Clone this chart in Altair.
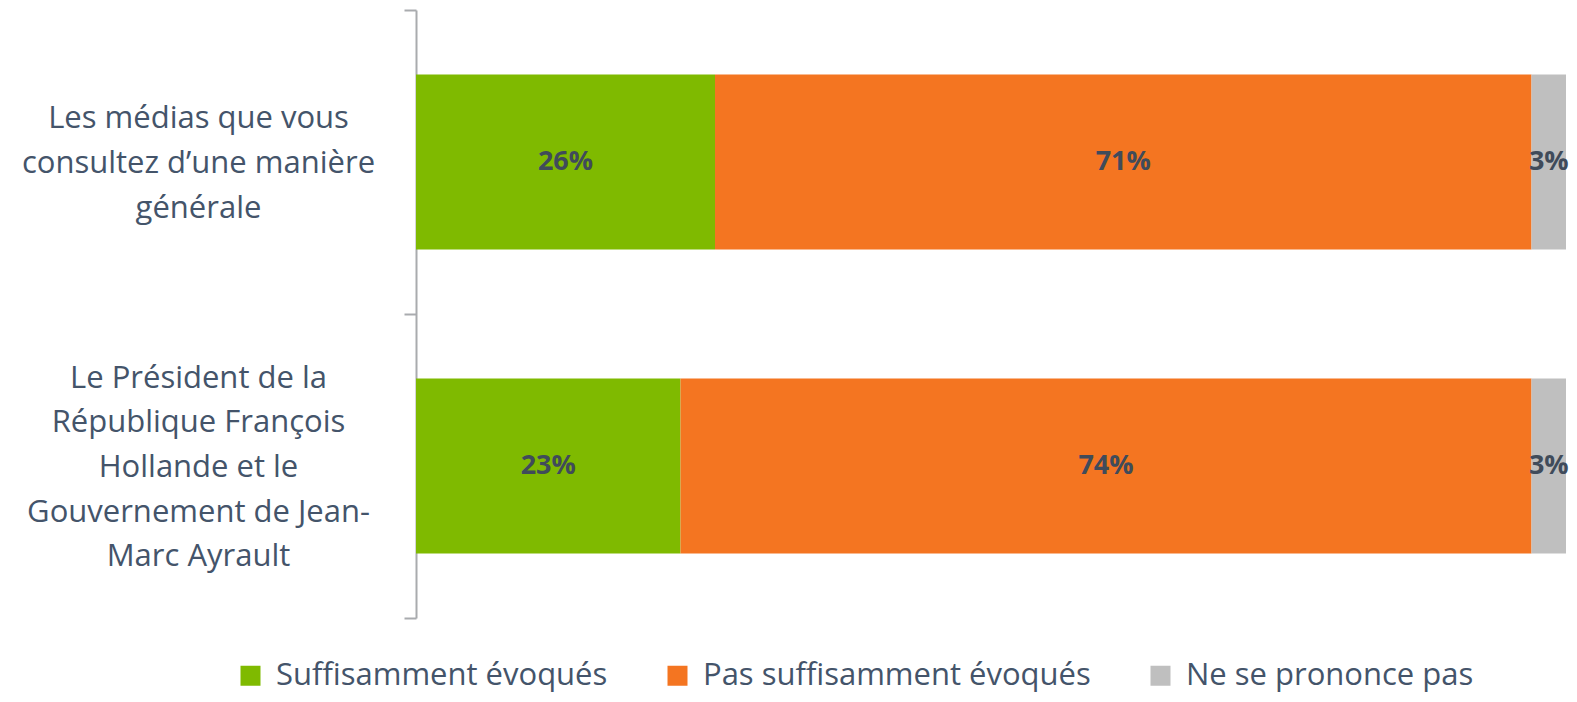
import altair as alt
import pandas as pd

categories = [
    "Les médias que vous|consultez d’une manière|générale",
    "Le Président de la|République François|Hollande et le|Gouvernement de Jean-|Marc Ayrault",
]
series = ["Suffisamment évoqués", "Pas suffisamment évoqués", "Ne se prononce pas"]
values_medias = [26, 71, 3]
values_gouv = [23, 74, 3]
colors = ["#7FBA00", "#F47521", "#BFBFBF"]

rows = []
for cat, vals in zip(categories, [values_medias, values_gouv]):
    for i, (s, v) in enumerate(zip(series, vals)):
        rows.append({"category": cat, "series": s, "value": v, "order": i, "label": f"{v}%"})
df = pd.DataFrame(rows)

TEXT = "#44546A"
AXIS = "#A9ABAE"
LINE_H = 44.7

base = alt.Chart(df).transform_stack(
    stack="value",
    as_=["x0", "x1"],
    groupby=["category"],
    sort=[alt.SortField("order")],
).transform_calculate(mid="(datum.x0 + datum.x1) / 2")

y_scale = alt.Scale(paddingInner=0, paddingOuter=0)
x_scale = alt.Scale(domain=[0, 100], nice=False, zero=True)

bars = base.mark_bar(size=175).encode(
    x=alt.X("x0:Q", scale=x_scale, axis=None),
    x2="x1:Q",
    y=alt.Y(
        "category:N",
        sort=categories,
        scale=y_scale,
        axis=alt.Axis(
            orient="left",
            title=None,
            ticks=False,
            domain=False,
            labelExpr="split(datum.value, '|')",
            labelAlign="center",
            labelBaseline="middle",
            labelPadding=218,
            labelFontSize=31,
            labelLineHeight=LINE_H,
            labelColor=TEXT,
            labelLimit=0,
            labelOffset={
                "condition": {
                    "test": "length(split(datum.value, '|')) > 3",
                    "value": -2 * LINE_H + 2,
                },
                "value": -LINE_H + 2,
            },
        ),
    ),
    color=alt.Color(
        "series:N",
        sort=series,
        scale=alt.Scale(domain=series, range=colors),
        legend=alt.Legend(
            title=None,
            orient="none",
            direction="horizontal",
            legendX=-181,
            legendY=650,
            symbolType="square",
            symbolSize=400,
            symbolStrokeWidth=0,
            labelFontSize=31,
            labelColor=TEXT,
            labelOffset=10,
            columnPadding=54,
            labelLimit=0,
        ),
    ),
)

texts = base.mark_text(fontSize=27, fontWeight="bold", color="#404B5A").encode(
    x=alt.X("mid:Q", scale=x_scale),
    y=alt.Y(
        "category:N",
        sort=categories,
        scale=y_scale,
        axis=alt.Axis(
            orient="left",
            title=None,
            labels=False,
            tickBand="extent",
            domainColor=AXIS,
            domainWidth=2,
            tickColor=AXIS,
            tickWidth=2,
            tickSize=12,
        ),
    ),
    text="label:N",
)

chart = (
    alt.layer(bars, texts)
    .resolve_axis(y="independent")
    .properties(
        width=1150,
        height=608,
        autosize=alt.AutoSizeParams(type="none"),
        padding={"left": 408, "top": 2, "right": 3, "bottom": 76},
    )
    .configure(font="Open Sans")
    .configure_view(stroke=None)
)

chart.save("out.html", embed_options={"renderer": "svg", "actions": False})
